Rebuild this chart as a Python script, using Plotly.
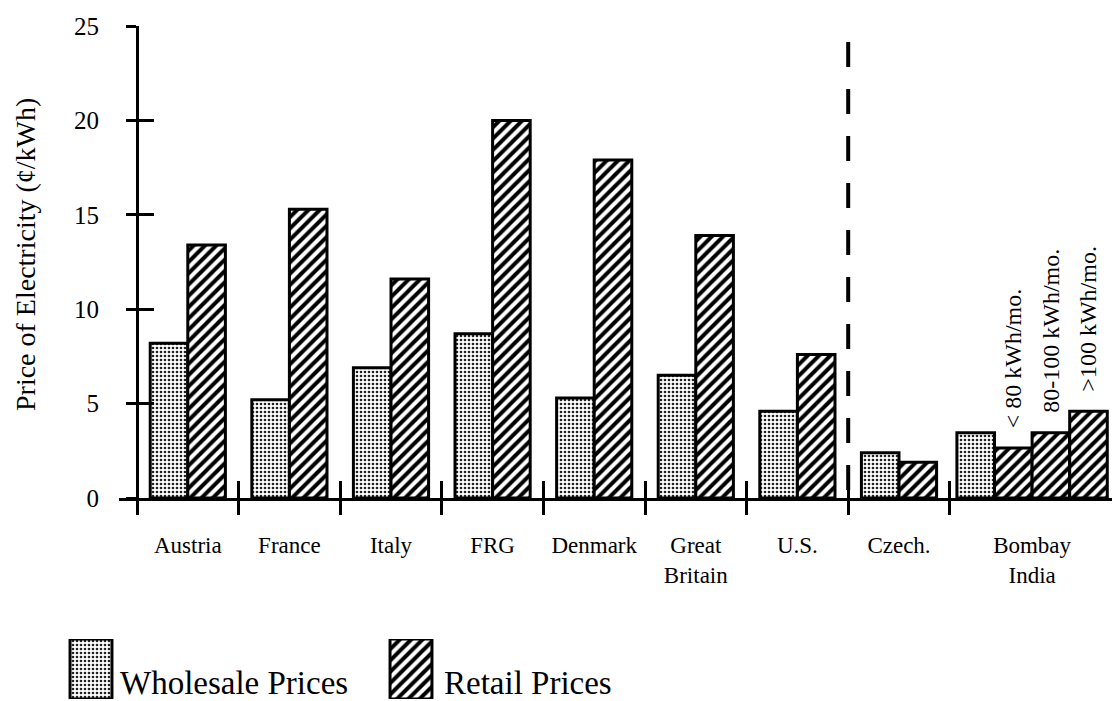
import plotly.graph_objects as go

# values (cents per kWh)
countries = ["Austria", "France", "Italy", "FRG", "Denmark", "Great<br>Britain", "U.S.", "Czech."]
wholesale = [8.2, 5.2, 6.9, 8.7, 5.3, 6.5, 4.6, 2.4]
retail = [13.4, 15.3, 11.6, 20.0, 17.9, 13.9, 7.6, 1.9]

bombay_label = "Bombay<br>India"
bombay_wholesale = 3.45
bombay_tiers = ["< 80 kWh/mo.", "80-100 kWh/mo.", ">100 kWh/mo."]
bombay_retail = [2.65, 3.45, 4.6]

y_ticks = [0, 5, 10, 15, 20, 25]
legend_labels = ["Wholesale Prices", "Retail Prices"]
legend_keys = [1, 1]

W, H = 1118, 701
FONT = "Liberation Serif"
BW = 0.37          # bar width in group units
GROUP_PX = 101.6   # one group is about this many pixels wide


def px_x(p):
    return p / W


def px_y(p):
    return 1 - p / H


dots = dict(shape=".", size=4, solidity=0.35, fgcolor="#222", bgcolor="white")
hatch = dict(shape="/", size=8, solidity=0.5, fgcolor="black", bgcolor="white")
outline = dict(color="black", width=3)

n = len(countries)
centers = [i + 0.5 for i in range(n)]
b0 = n + 0.07  # Bombay bars start just right of the last separator
bombay_x = [b0 + BW * (k + 0.5) for k in range(1 + len(bombay_retail))]
bombay_center = sum(bombay_x) / len(bombay_x)
separators = list(range(n + 1))

fig = go.Figure()

# wholesale bars
fig.add_trace(go.Bar(
    x=[c - BW / 2 for c in centers] + [bombay_x[0]],
    y=wholesale + [bombay_wholesale],
    width=BW,
    marker=dict(color="white", pattern=dots, line=outline),
    showlegend=False,
    hoverinfo="skip",
))

# retail bars (on the overlay axes, same ranges, so the crossing ticks get drawn)
fig.add_trace(go.Bar(
    x=[c + BW / 2 for c in centers] + bombay_x[1:],
    y=retail + bombay_retail,
    width=BW,
    marker=dict(color="white", pattern=hatch, line=outline),
    xaxis="x2", yaxis="y2",
    showlegend=False,
    hoverinfo="skip",
))

# empty trace so the third x axis (inner separator ticks) exists
fig.add_trace(go.Scatter(x=[None], y=[None], xaxis="x3", yaxis="y",
                         showlegend=False, hoverinfo="skip"))

# legend keys, drawn as bars on their own little axes
for i, pat in enumerate([dots, hatch]):
    fig.add_trace(go.Bar(
        x=[i], y=[legend_keys[i]], width=0.131,
        marker=dict(color="white", pattern=pat, line=outline),
        xaxis="x4", yaxis="y4", showlegend=False, hoverinfo="skip",
    ))

x_left = (119 - 137) / GROUP_PX
x_right = (1112 - 137) / GROUP_PX

annotations = []
for i, lab in enumerate(legend_labels):
    annotations.append(dict(
        text=lab, xref="x4", yref="y4", x=i + 0.0655, y=0,
        xanchor="left", yanchor="bottom", xshift=6 if i == 0 else 10, yshift=-4,
        showarrow=False, font=dict(family=FONT, size=33, color="black"),
    ))

for xb, v, lab in zip(bombay_x[1:], bombay_retail, bombay_tiers):
    annotations.append(dict(
        text=lab, x=xb, y=v, xref="x", yref="y",
        xanchor="center", yanchor="bottom", yshift=18, textangle=-90,
        showarrow=False, font=dict(family=FONT, size=24, color="black"),
    ))

annotations.append(dict(
    text="Price of Electricity (¢/kWh)", xref="paper", yref="paper",
    x=px_x(25), y=px_y(255), xanchor="center", yanchor="middle", textangle=-90,
    showarrow=False, font=dict(family=FONT, size=28, color="black"),
))

axis_common = dict(showgrid=False, zeroline=False, tickcolor="black", automargin=False)
xdom = [px_x(119), px_x(1112)]

fig.update_layout(
    template="none",
    width=W, height=H,
    margin=dict(l=0, r=0, t=0, b=0, autoexpand=False),
    paper_bgcolor="white",
    plot_bgcolor="rgba(0,0,0,0)",
    barmode="overlay",
    font=dict(family=FONT, color="black"),
    xaxis=dict(
        domain=xdom, range=[x_left, x_right], anchor="y",
        tickvals=centers + [bombay_center], ticktext=countries + [bombay_label],
        ticks="", showline=True, linewidth=3, linecolor="black",
        tickfont=dict(family=FONT, size=23, color="black"), ticklabelstandoff=24,
        **axis_common,
    ),
    xaxis2=dict(
        overlaying="x", anchor="y", domain=xdom, range=[x_left, x_right],
        tickvals=separators, ticks="outside", ticklen=16, tickwidth=3,
        showticklabels=False, showline=False, **axis_common,
    ),
    xaxis3=dict(
        overlaying="x", anchor="y", domain=xdom, range=[x_left, x_right],
        tickvals=separators, ticks="inside", ticklen=17, tickwidth=3,
        showticklabels=False, showline=False, **axis_common,
    ),
    yaxis=dict(
        domain=[px_y(498), px_y(26)], range=[0, 25], anchor="free", position=px_x(137),
        tickvals=y_ticks, ticks="outside", ticklen=10, tickwidth=3,
        showline=True, linewidth=3, linecolor="black",
        tickfont=dict(family=FONT, size=25, color="black"), ticklabelstandoff=22,
        **axis_common,
    ),
    yaxis2=dict(
        overlaying="y", anchor="free", position=px_x(137), range=[0, 25],
        tickvals=y_ticks, ticks="inside", ticklen=16, tickwidth=3,
        showticklabels=False, showline=False, **axis_common,
    ),
    xaxis4=dict(domain=[px_x(27), px_x(475)], range=[-0.2, 1.2], anchor="y4", visible=False),
    yaxis4=dict(domain=[px_y(699), px_y(639)], range=[0, 1], anchor="x4", visible=False),
    shapes=[dict(
        type="line", xref="x", yref="y", x0=separators[n - 1], x1=separators[n - 1],
        y0=24.15, y1=0, line=dict(color="black", width=4, dash="25px,22px"),
    )],
    annotations=annotations,
)

fig.write_html("out.html", config={"displayModeBar": False},
               post_script="document.body.style.margin='0';")
